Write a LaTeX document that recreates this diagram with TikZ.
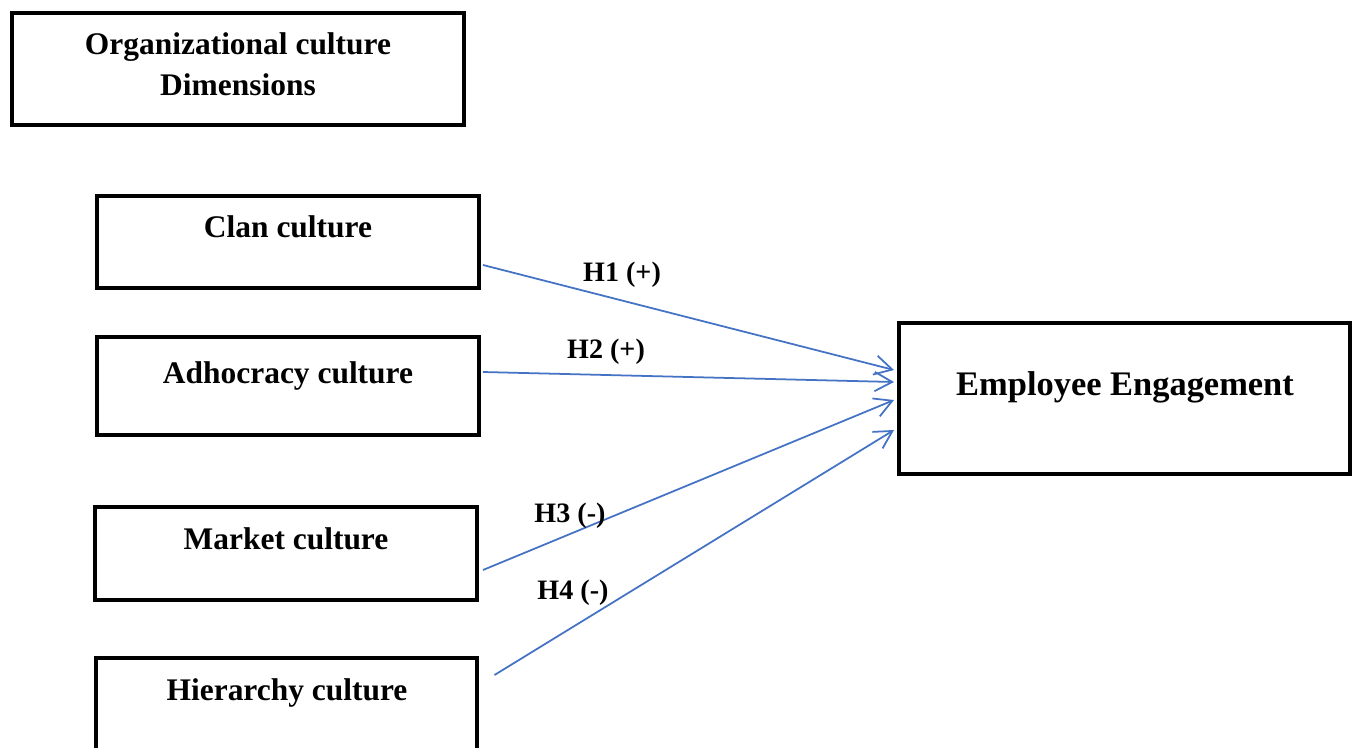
\documentclass[tikz,border=0pt]{standalone}
\usepackage{fontspec}
\setmainfont{Liberation Serif}
\usetikzlibrary{arrows.meta}
\definecolor{hypblue}{RGB}{68,114,196}
\tikzset{
  dimbox/.style={draw, line width=2.3pt, minimum width=7.64cm, inner sep=0pt},
  boxtext/.style={font=\bfseries\fontsize{17.9}{23.3}\selectfont, anchor=base, inner sep=0pt},
  hyp/.style={hypblue, line width=1pt, -{Straight Barb[length=10pt,width=11pt]}},
  hyplabel/.style={font=\bfseries\fontsize{16}{19}\selectfont, anchor=base, inner sep=0pt}
}
\begin{document}
\begin{tikzpicture}[x=0.02cm, y=-0.02cm]
\path[use as bounding box, clip] (0,0) rectangle (1354,747);
\fill[white] (0,0) rectangle (1354,747);

% title box
\node[dimbox, minimum width=9.04cm, minimum height=2.24cm] (dims) at (238,69) {};
\node[boxtext, align=center] (dimstxt) at (238,95) {Organizational culture\\Dimensions};

% the four dimensions
\node[dimbox, minimum height=1.84cm] (clan) at (288,242) {};
\node[boxtext] (clantxt) at (288,237) {Clan culture};

\node[dimbox, minimum height=1.96cm] (adh) at (288,386) {};
\node[boxtext] (adhtxt) at (288,383) {Adhocracy culture};

\node[dimbox, minimum height=1.86cm] (mkt) at (286,553.5) {};
\node[boxtext] (mkttxt) at (286,549) {Market culture};

\node[dimbox, minimum height=1.9cm] (hier) at (286.5,705.5) {};
\node[boxtext] (hiertxt) at (287,700) {Hierarchy culture};

% outcome
\node[dimbox, minimum width=9.02cm, minimum height=3.02cm] (eng) at (1124.5,398.5) {};
\node[boxtext, font=\bfseries\fontsize{19.6}{23.5}\selectfont] (engtxt) at (1125,395) {Employee Engagement};

\draw[hyp] ([xshift=0.04cm,yshift=-0.46cm]clan.east) -- ([xshift=-0.06cm,yshift=0.57cm]eng.west);
\draw[hyp] ([xshift=0.04cm,yshift=0.28cm]adh.east) -- ([xshift=-0.06cm,yshift=0.33cm]eng.west);
\draw[hyp] ([xshift=0.08cm,yshift=-0.33cm]mkt.east) -- ([xshift=-0.06cm,yshift=-0.03cm]eng.west);
\draw[hyp] ([xshift=0.3cm,yshift=0.61cm]hier.east) -- ([xshift=-0.06cm,yshift=-0.63cm]eng.west);

\node[hyplabel] (h1) at (622,281) {H1 (+)};
\node[hyplabel] (h2) at (606,358) {H2 (+)};
\node[hyplabel] (h3) at (570,522) {H3 (-)};
\node[hyplabel] (h4) at (573,599) {H4 (-)};
\end{tikzpicture}
\end{document}
